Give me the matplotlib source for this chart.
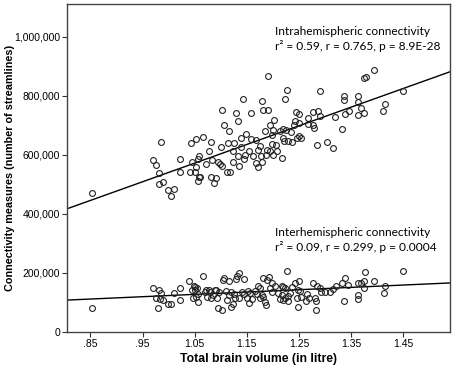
import numpy as np
import matplotlib
matplotlib.use("Agg")
from matplotlib import pyplot as plt

# intrahemispheric connectivity: brain volume (litre), streamlines (thousands)
intra_vol = [0.852, 0.985, 0.970, 0.976, 0.982, 1.021, 1.021, 0.981, 0.989, 0.998, 1.010, 1.005,
             1.041, 1.043, 1.052, 1.066, 1.081, 1.077, 1.045, 1.056, 1.059, 1.052, 1.050, 1.058,
             1.056, 1.061, 1.072, 1.084, 1.082, 1.091, 1.088, 1.094, 1.099, 1.101, 1.102, 1.107,
             1.115, 1.113, 1.125, 1.123, 1.112, 1.117, 1.102, 1.123, 1.130, 1.134, 1.143, 1.158,
             1.138, 1.148, 1.139, 1.134, 1.136, 1.144, 1.147, 1.155, 1.158, 1.167, 1.161, 1.167,
             1.171, 1.172, 1.176, 1.178, 1.179, 1.182, 1.185, 1.180,
             1.190, 1.227, 1.224, 1.291, 1.190, 1.245, 1.251, 1.278, 1.287, 1.291, 1.319, 1.203,
             1.194, 1.243, 1.240, 1.251, 1.267, 1.268, 1.277, 1.279, 1.201, 1.198, 1.214, 1.220,
             1.226, 1.235, 1.251, 1.247, 1.255, 1.220, 1.222, 1.230, 1.236, 1.198, 1.206, 1.188,
             1.187, 1.195, 1.201, 1.208, 1.217, 1.284, 1.303, 1.316,
             1.395, 1.374, 1.378, 1.450, 1.337, 1.337, 1.364, 1.364, 1.416, 1.412, 1.370, 1.375,
             1.363, 1.346, 1.338, 1.332]
intra_str = [469, 642, 582, 564, 539, 586, 543, 501, 506, 479, 484, 461,
             540, 638, 654, 659, 642, 611, 577, 586, 594, 557, 543, 526,
             512, 524, 568, 583, 526, 520, 503, 576, 568, 626, 753, 702,
             679, 641, 641, 611, 540, 543, 563, 577, 741, 713, 789, 741,
             656, 671, 625, 594, 563, 586, 600, 611, 653, 649, 594, 572,
             560, 617, 628, 594, 781, 753, 679, 577,
             865, 820, 790, 815, 753, 744, 739, 744, 749, 732, 728, 719,
             702, 713, 702, 707, 724, 704, 702, 690, 685, 668, 681, 688,
             685, 676, 664, 656, 656, 656, 645, 645, 643, 637, 634, 617,
             600, 614, 600, 614, 589, 634, 643, 623,
             885, 858, 863, 817, 798, 786, 800, 777, 772, 747, 758, 741,
             736, 747, 738, 688]

# interhemispheric connectivity
inter_vol = [0.852, 0.970, 0.982, 0.985, 0.976, 0.984, 0.990, 0.980, 0.999, 1.005, 1.010, 1.021,
             1.022, 1.040, 1.045, 1.051, 1.054, 1.047, 1.053, 1.057, 1.057, 1.048, 1.051, 1.066,
             1.072, 1.080, 1.086, 1.094, 1.102, 1.091, 1.104, 1.107, 1.110, 1.112, 1.069, 1.077,
             1.074, 1.082, 1.089, 1.097, 1.093, 1.115, 1.115, 1.120, 1.123, 1.120, 1.126, 1.128,
             1.131, 1.135, 1.129, 1.144, 1.141, 1.144, 1.135, 1.153, 1.157, 1.150, 1.160, 1.155,
             1.166, 1.169, 1.172, 1.176, 1.182, 1.188, 1.192, 1.182, 1.185, 1.187, 1.195, 1.199,
             1.198, 1.176, 1.179, 1.227, 1.204, 1.217, 1.220, 1.224, 1.209, 1.217, 1.233, 1.230,
             1.236, 1.243, 1.251, 1.224, 1.214, 1.220, 1.230, 1.249, 1.252, 1.246, 1.255, 1.248,
             1.264, 1.270, 1.266, 1.277, 1.285, 1.291, 1.281, 1.283, 1.282, 1.292, 1.300, 1.310,
             1.316, 1.321, 1.332, 1.338, 1.345, 1.337, 1.377, 1.450, 1.394, 1.364, 1.369, 1.374,
             1.374, 1.416, 1.413, 1.363, 1.364]
inter_str = [80, 148, 142, 131, 114, 111, 108, 80, 94, 94, 131, 108,
             150, 171, 142, 151, 148, 116, 120, 128, 103, 154, 142, 190,
             142, 137, 125, 80, 75, 142, 176, 182, 140, 108, 137, 142,
             120, 116, 142, 137, 114, 171, 125, 137, 94, 86, 128, 114,
             191, 199, 180, 180, 137, 128, 114, 139, 133, 116, 112, 97,
             139, 128, 154, 148, 182, 176, 187, 120, 103, 92, 148, 137,
             165, 114, 125, 208, 154, 154, 151, 148, 131, 125, 131, 123,
             151, 165, 173, 116, 111, 108, 105, 142, 139, 116, 120, 83,
             105, 116, 128, 165, 156, 148, 116, 105, 75, 135, 135, 137,
             146, 154, 165, 182, 159, 105, 204, 208, 174, 167, 165, 174,
             148, 154, 131, 125, 111]

# fit lines as printed (intercept, slope), thousands of streamlines per litre
intra_fit = (-91, 631)
inter_fit = (44.5, 78.9)

x_ticks = [0.85, 0.95, 1.05, 1.15, 1.25, 1.35, 1.45]
x_tick_labels = [".85", ".95", "1.05", "1.15", "1.25", "1.35", "1.45"]
y_ticks = [0, 200000, 400000, 600000, 800000, 1000000]
y_tick_labels = ["0", "200,000", "400,000", "600,000", "800,000", "1,000,000"]

intra_text = "Intrahemispheric connectivity\nr\u00b2 = 0.59, r = 0.765, p = 8.9E-28"
inter_text = "Interhemispheric connectivity\nr\u00b2 = 0.09, r = 0.299, p = 0.0004"

plt.rcParams['font.family'] = ['Liberation Sans', 'DejaVu Sans']

fig = plt.figure(figsize=(4.54, 3.65), dpi=100)
ax = fig.add_axes([0.1476, 0.0904, 0.8436, 0.8986])

xmin, xmax = 0.805, 1.54
ax.set_xlim(xmin, xmax)
ax.set_ylim(0, 1110000)

xs = np.array([xmin, xmax])
ax.plot(xs, (intra_fit[0] + intra_fit[1] * xs) * 1000, color="black", lw=1.0, zorder=2)
ax.plot(xs, (inter_fit[0] + inter_fit[1] * xs) * 1000, color="black", lw=1.0, zorder=2)

ax.plot(intra_vol, np.array(intra_str) * 1000, "o", mfc="none", mec="#222222",
        ms=4.2, mew=0.8, zorder=3)
ax.plot(inter_vol, np.array(inter_str) * 1000, "o", mfc="none", mec="#222222",
        ms=4.2, mew=0.8, zorder=3)

ax.set_xticks(x_ticks)
ax.set_xticklabels(x_tick_labels)
ax.set_yticks(y_ticks)
ax.set_yticklabels(y_tick_labels)
ax.tick_params(direction="out", length=3.5, width=0.8, labelsize=7.5, pad=1.5, color="#333333")

for s in ax.spines.values():
    s.set_color("#444444")
    s.set_linewidth(1.0)

ax.set_xlabel("Total brain volume (in litre)", fontsize=8.8, fontweight="bold", labelpad=3)
ax.set_ylabel("Connectivity measures (number of streamlines)", fontsize=7.8, fontweight="bold")
ax.yaxis.set_label_coords(-0.135, 0.5)

ax.text(1.204, 1034000, intra_text, fontsize=8.6, family=["Lato", "DejaVu Sans"],
        va="top", ha="left", linespacing=1.3)
ax.text(1.204, 354000, inter_text, fontsize=8.6, family=["Lato", "DejaVu Sans"],
        va="top", ha="left", linespacing=1.3)

plt.savefig("out.png", dpi=100)
